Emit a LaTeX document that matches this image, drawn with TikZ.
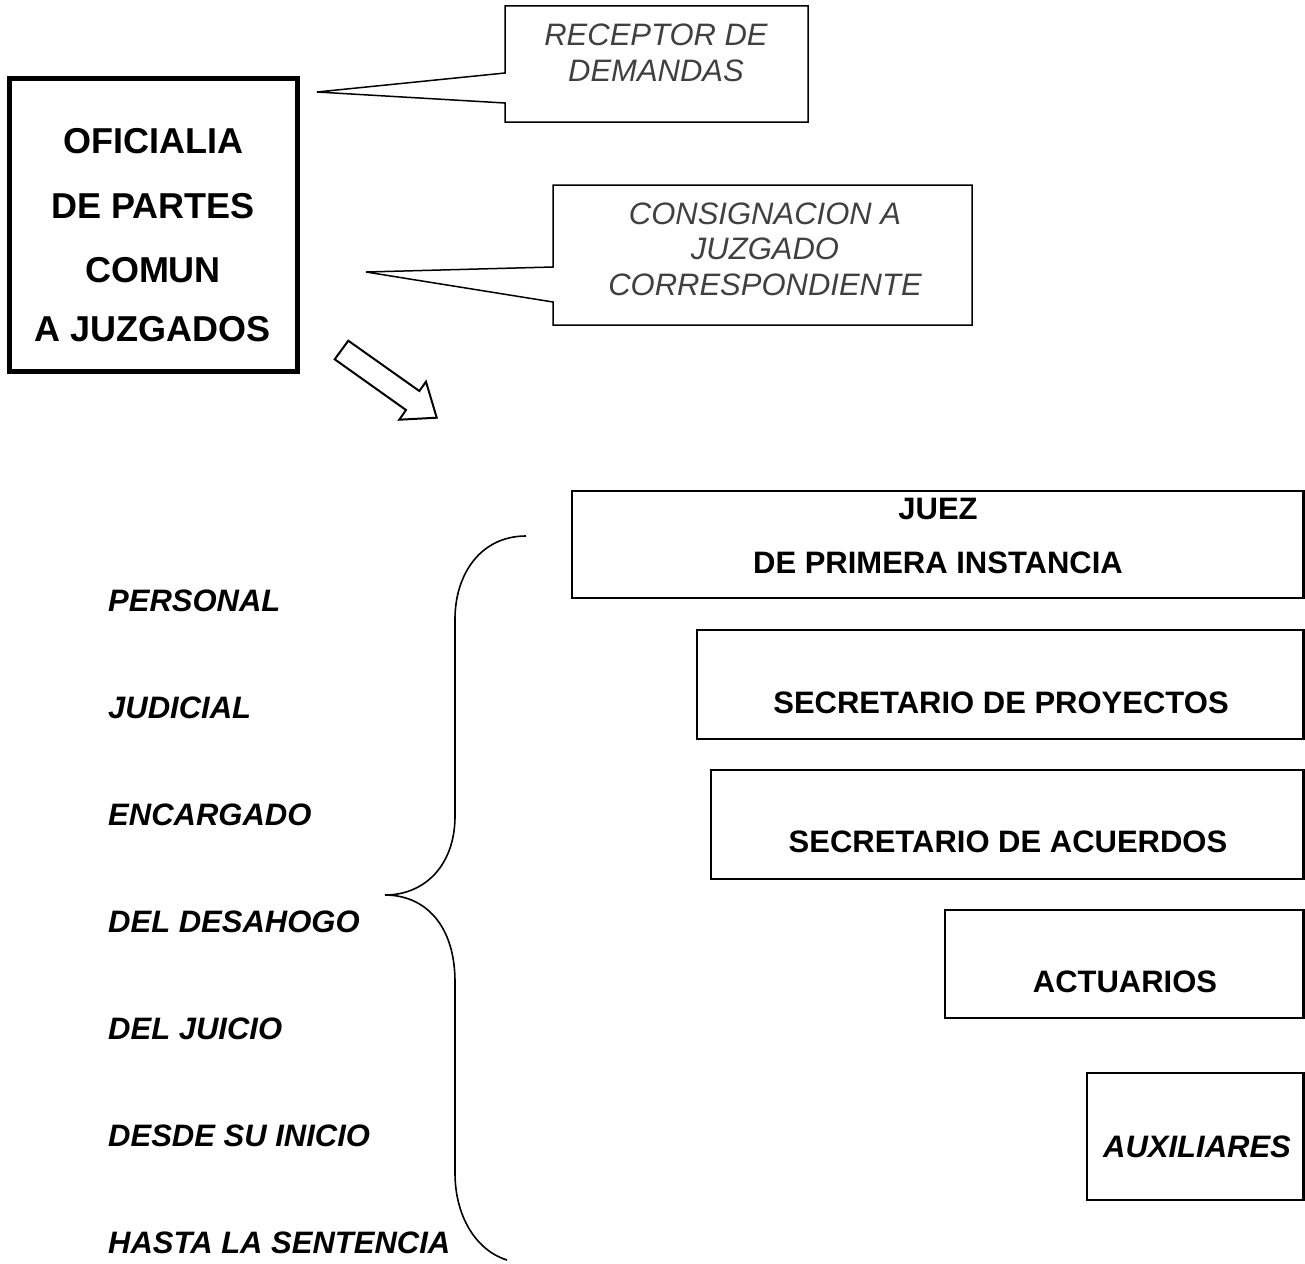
\documentclass[tikz,border=0pt]{standalone}
\usepackage{fontspec}
\setmainfont{Liberation Sans}
\definecolor{calltxt}{RGB}{64,64,64}
\tikzset{
  main/.style={draw, line width=5pt, inner sep=0pt},
  rbox/.style={draw, line width=2.5pt, inner sep=0pt},
  callout/.style={draw, line width=1.5pt, line join=miter},
  btxt/.style={inner sep=0pt, font=\fontsize{31}{36}\selectfont\bfseries},
  mtxt/.style={inner sep=0pt, font=\fontsize{36}{40}\selectfont\bfseries},
  itxt/.style={inner sep=0pt, anchor=west, font=\fontsize{31}{36}\selectfont\bfseries\itshape},
  ctxt/.style={inner sep=0pt, align=center, text=calltxt, font=\fontsize{31}{35.5}\selectfont\itshape},
  hollow/.style={draw, line width=2pt, line join=miter, fill=white},
  bracestyle/.style={draw, line width=1.6pt}
}
\begin{document}
\begin{tikzpicture}[x=1pt,y=-1pt]
\useasboundingbox[fill=white] (0,0) rectangle (1305,1263);

% main box
\node[main, minimum width=288pt, minimum height=293pt] (ofi) at (153.5,225) {};
\node[mtxt] (ofi1) at (153,141) {OFICIALIA};
\node[mtxt] (ofi2) at (153,206) {DE PARTES};
\node[mtxt] (ofi3) at (153,270) {COMUN};
\node[mtxt] (ofi4) at (153,329) {A JUZGADOS};

% callout 1
\coordinate (tip1) at (317,92);
\draw[callout] (505,6) -- (808,6) -- (808,122) -- (505,122) -- (505,103) -- (tip1) -- (505,73) -- cycle;
\node[ctxt] (rec) at (656,53) {RECEPTOR DE\\DEMANDAS};

% callout 2
\coordinate (tip2) at (366,272);
\draw[callout] (553,185) -- (972,185) -- (972,325) -- (553,325) -- (553,302) -- (tip2) -- (553,267) -- cycle;
\node[ctxt] (con) at (765,249) {CONSIGNACION A\\JUZGADO\\CORRESPONDIENTE};

% hollow arrow
\draw[hollow] (348.3,340.7) -- (419.3,391) -- (426,381.7) -- (436.7,417.7) -- (399.3,419.7) -- (406,410) -- (334.7,359.3) -- cycle;

% right boxes
\node[rbox, minimum width=731.5pt, minimum height=107pt] (juez) at (937.75,544.5) {};
\node[btxt] (juez1) at (938,509) {JUEZ};
\node[btxt] (juez2) at (938,563) {DE PRIMERA INSTANCIA};

\node[rbox, minimum width=606.5pt, minimum height=109pt] (proy) at (1000.25,684.5) {};
\node[btxt] (proyT) at (1001,703) {SECRETARIO DE PROYECTOS};

\node[rbox, minimum width=592.5pt, minimum height=109pt] (acu) at (1007.25,824.5) {};
\node[btxt] (acuT) at (1008,842) {SECRETARIO DE ACUERDOS};

\node[rbox, minimum width=358.5pt, minimum height=108pt] (act) at (1124.25,964) {};
\node[btxt] (actT) at (1125,982) {ACTUARIOS};

\node[rbox, minimum width=216.5pt, minimum height=127pt] (aux) at (1195.25,1136.5) {};
\node[btxt, font=\fontsize{31}{36}\selectfont\bfseries\itshape] (auxT) at (1197,1147) {AUXILIARES};

% left texts
\node[itxt] (l1) at (108,601) {PERSONAL};
\node[itxt] (l2) at (108,708) {JUDICIAL};
\node[itxt] (l3) at (108,815) {ENCARGADO};
\node[itxt] (l4) at (108,922) {DEL DESAHOGO};
\node[itxt] (l5) at (108,1029) {DEL JUICIO};
\node[itxt] (l6) at (108,1136) {DESDE SU INICIO};
\node[itxt] (l7) at (108,1243) {HASTA LA SENTENCIA};

% brace
\draw[bracestyle] (526,536) .. controls (480,536) and (455,575) .. (455,619)
  -- (455,816) .. controls (455,865) and (425,895) .. (385,895)
  .. controls (425,895) and (455,925) .. (455,982)
  -- (455,1173) .. controls (455,1215) and (475,1250) .. (507,1260);
\end{tikzpicture}
\end{document}
